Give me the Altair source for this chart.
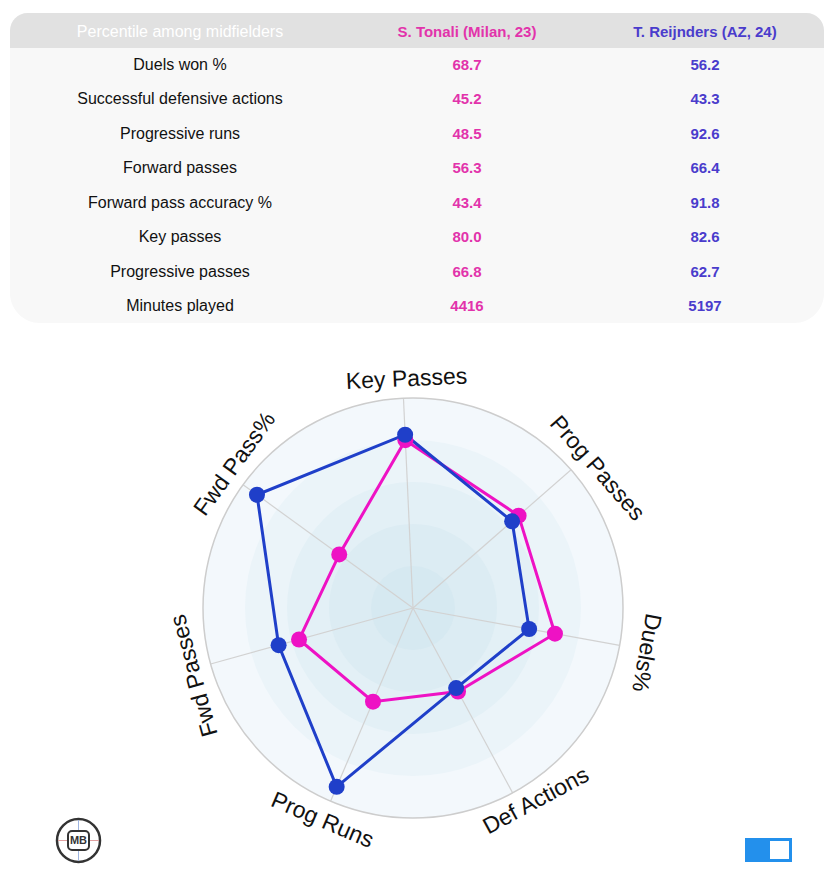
import altair as alt
import pandas as pd

# ---------------- data ----------------
table_metrics = ["Duels won %", "Successful defensive actions", "Progressive runs",
                 "Forward passes", "Forward pass accuracy %", "Key passes",
                 "Progressive passes", "Minutes played"]
tonali_table = ["68.7", "45.2", "48.5", "56.3", "43.4", "80.0", "66.8", "4416"]
reijnders_table = ["56.2", "43.3", "92.6", "66.4", "91.8", "82.6", "62.7", "5197"]
header_texts = ["Percentile among midfielders", "S. Tonali (Milan, 23)", "T. Reijnders (AZ, 24)"]

radar_axes = ["Key Passes", "Prog Passes", "Duels%", "Def Actions", "Prog Runs", "Fwd Passes", "Fwd Pass%"]
tonali_radar = [80.0, 66.8, 68.7, 45.2, 48.5, 56.3, 43.4]
reijnders_radar = [82.6, 62.7, 56.2, 43.3, 92.6, 66.4, 91.8]
players = ["Tonali", "Reijnders"]

ring_levels = [100, 80, 60, 40, 20]
ring_colors = ["#f3f8fc", "#ebf4f9", "#e3f0f6", "#dcecf3", "#d6e9f1"]

# label placement tweaks (style only): angular nudge in degrees, radial distance in radar units
label_nudge = [1.0, 4.0, 0.6, -4.2, 0.0, -1.7, 3.0]
label_radius = [109, 110, 113, 109, 110, 109, 109]

# ---------------- style ----------------
FONT = "Liberation Sans"
MAG = "#ee12c4"
BLU = "#1f3fc9"
TXT_MAG = "#e233ab"
TXT_BLU = "#4a3ccc"
W = 818
TH = 325
RH = 544
PX = 2.1          # pixels per radar unit
CX, CY = 405, 275  # radar centre inside the radar panel
START = -2.6      # rotation of first axis (deg)

one = pd.DataFrame({"k": [0]})

# ---------------- table panel ----------------
tbl = pd.DataFrame({"metric": table_metrics, "tonali": tonali_table, "reijnders": reijnders_table})
yrow = alt.Y("metric:N", scale=alt.Scale(type="point", domain=table_metrics, range=[57, 298], padding=0),
             axis=None)

bg = alt.Chart(one).mark_rect(color="#f8f8f8", cornerRadius=30).encode(
    x=alt.value(2), x2=alt.value(816), y=alt.value(5), y2=alt.value(315))
hdr_bg = alt.Chart(one).mark_rect(color="#e1e1e1", cornerRadiusTopLeft=30, cornerRadiusTopRight=30).encode(
    x=alt.value(2), x2=alt.value(816), y=alt.value(5), y2=alt.value(40))

hdr_df = pd.DataFrame({"h": header_texts})
hdr_layers = []
for i, (xx, col, wt) in enumerate([(172, "#ffffff", "normal"), (459, TXT_MAG, "bold"), (697, TXT_BLU, "bold")]):
    hdr_layers.append(
        alt.Chart(hdr_df).transform_filter(alt.datum.h == header_texts[i]).mark_text(
            font=FONT, fontSize=16 if i == 0 else 15, fontWeight=wt, color=col, baseline="middle"
        ).encode(x=alt.value(xx), y=alt.value(24), text="h:N")
    )

lbl = alt.Chart(tbl).mark_text(font=FONT, fontSize=16, color="#111111", baseline="middle").encode(
    x=alt.value(172), y=yrow, text="metric:N")
ton = alt.Chart(tbl).mark_text(font=FONT, fontSize=15, fontWeight="bold", color=TXT_MAG, baseline="middle").encode(
    x=alt.value(459), y=yrow, text="tonali:N")
rei = alt.Chart(tbl).mark_text(font=FONT, fontSize=15, fontWeight="bold", color=TXT_BLU, baseline="middle").encode(
    x=alt.value(697), y=yrow, text="reijnders:N")

table_chart = alt.layer(bg, hdr_bg, *hdr_layers, lbl, ton, rei).properties(width=W, height=TH)

# ---------------- radar panel ----------------
xs = alt.Scale(domain=[-CX / PX, (W - CX) / PX])
ys = alt.Scale(domain=[-(RH - CY) / PX, CY / PX])
ang_expr = f"({START} + datum.idx * 360 / 7) * PI / 180"

ring_df = pd.DataFrame({"level": ring_levels, "color": ring_colors, "zero": 0})
size_scale = alt.Scale(type="pow", exponent=2, domain=[0, 100], range=[0, (2 * 100 * PX) ** 2])

rings = alt.Chart(ring_df).mark_point(shape="circle", filled=True, opacity=1, strokeWidth=0).encode(
    x=alt.X("zero:Q", scale=xs, axis=None),
    y=alt.Y("zero:Q", scale=ys, axis=None),
    size=alt.Size("level:Q", scale=size_scale, legend=None),
    color=alt.Color("color:N", scale=None),
    order=alt.Order("level:Q", sort="descending"),
)
outer = alt.Chart(ring_df).transform_filter(alt.datum.level == 100).mark_point(
    shape="circle", filled=False, stroke="#cdcdcd", strokeWidth=1.5, opacity=1).encode(
    x=alt.X("zero:Q", scale=xs, axis=None),
    y=alt.Y("zero:Q", scale=ys, axis=None),
    size=alt.Size("level:Q", scale=size_scale, legend=None),
)

ax_df = pd.DataFrame({"axis": radar_axes, "idx": list(range(len(radar_axes))),
                      "nudge": label_nudge, "lr": label_radius})
spokes = alt.Chart(ax_df).transform_calculate(
    ang=ang_expr, zero="0", ex="100 * sin(datum.ang)", ey="100 * cos(datum.ang)"
).mark_rule(color="#d2d2d2", strokeWidth=1.2).encode(
    x=alt.X("zero:Q", scale=xs, axis=None), y=alt.Y("zero:Q", scale=ys, axis=None),
    x2="ex:Q", y2="ey:Q")

labels = alt.Chart(ax_df).transform_calculate(
    deg=f"{START} + datum.idx * 360 / 7",
    pdeg="datum.deg + datum.nudge",
    ang="datum.pdeg * PI / 180",
    lx="datum.lr * sin(datum.ang)", ly="datum.lr * cos(datum.ang)",
    rot="((datum.deg > 105 && datum.deg < 250) ? datum.deg - 180 : datum.deg) + 360",
    rot2="datum.rot % 360",
).mark_text(font=FONT, fontSize=23, color="#111111", baseline="middle", align="center").encode(
    x=alt.X("lx:Q", scale=xs, axis=None), y=alt.Y("ly:Q", scale=ys, axis=None),
    text="axis:N", angle=alt.Angle("rot2:Q", scale=None))

rows = []
for p, vals in zip(players, [tonali_radar, reijnders_radar]):
    for i, (a, v) in enumerate(zip(radar_axes, vals)):
        rows.append({"player": p, "axis": a, "idx": i, "value": v})
rad = pd.DataFrame(rows)


def player_layers(p, col):
    base = alt.Chart(rad).transform_filter(alt.datum.player == p).transform_calculate(
        ang=ang_expr, px="datum.value * sin(datum.ang)", py="datum.value * cos(datum.ang)")
    line = base.mark_line(interpolate="linear-closed", strokeWidth=3, color=col).encode(
        x=alt.X("px:Q", scale=xs, axis=None), y=alt.Y("py:Q", scale=ys, axis=None),
        order="idx:Q")
    pts = base.mark_point(shape="circle", filled=True, opacity=1, color=col, size=256).encode(
        x=alt.X("px:Q", scale=xs, axis=None), y=alt.Y("py:Q", scale=ys, axis=None))
    return line, pts


t_line, t_pts = player_layers("Tonali", MAG)
r_line, r_pts = player_layers("Reijnders", BLU)

# logo (bottom-left) and toggle (bottom-right)
logo_circle = alt.Chart(one).mark_point(shape="circle", filled=False, stroke="#333333", strokeWidth=2.5,
                                        size=1849, opacity=1).encode(x=alt.value(70.5), y=alt.value(507.5))
logo_v = alt.Chart(one).mark_rule(color="#9db4e0", strokeWidth=1).encode(
    x=alt.value(70.5), y=alt.value(487), y2=alt.value(528))
logo_h = alt.Chart(one).mark_rule(color="#e0a0a0", strokeWidth=1).encode(
    x=alt.value(50), x2=alt.value(91), y=alt.value(507.5))
logo_box = alt.Chart(one).mark_rect(fill="#ffffff", stroke="#333333", strokeWidth=2, cornerRadius=4).encode(
    x=alt.value(60), x2=alt.value(81), y=alt.value(498), y2=alt.value(517))
logo_txt = alt.Chart(one).mark_text(text="MB", font=FONT, fontSize=11, fontWeight="bold", color="#333333",
                                    baseline="middle").encode(x=alt.value(70.5), y=alt.value(508))
tog = alt.Chart(one).mark_rect(color="#2390ec").encode(
    x=alt.value(737), x2=alt.value(784), y=alt.value(505), y2=alt.value(529))
tog_in = alt.Chart(one).mark_rect(color="#ffffff").encode(
    x=alt.value(762), x2=alt.value(781), y=alt.value(508), y2=alt.value(526))

radar_chart = alt.layer(
    rings, spokes, outer, t_line, r_line, t_pts, r_pts, labels,
    logo_circle, logo_v, logo_h, logo_box, logo_txt, tog, tog_in
).properties(width=W, height=RH)

chart = alt.vconcat(table_chart, radar_chart, spacing=0).properties(
    padding=0, background="#ffffff"
).configure_view(strokeWidth=0, stroke="transparent")

chart.save("out.html", embed_options={"renderer": "svg", "actions": False})
